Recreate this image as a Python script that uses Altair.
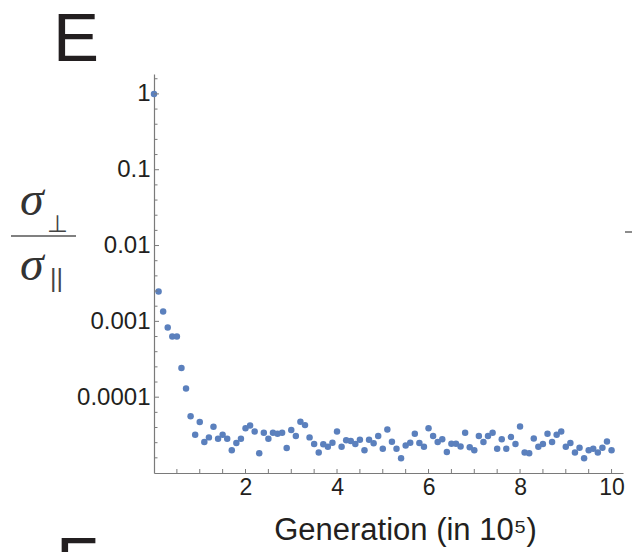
import altair as alt
import pandas as pd

# Generation (in units of 10^5) and the width ratio sigma_perp / sigma_par
generation = [
    0.0, 0.1, 0.2, 0.3, 0.4, 0.5, 0.6, 0.7, 0.8, 0.9,
    1.0, 1.1, 1.2, 1.3, 1.4, 1.5, 1.6, 1.7, 1.8, 1.9,
    2.0, 2.1, 2.2, 2.3, 2.4, 2.5, 2.6, 2.7, 2.8, 2.9,
    3.0, 3.1, 3.2, 3.3, 3.4, 3.5, 3.6, 3.7, 3.8, 3.9,
    4.0, 4.1, 4.2, 4.3, 4.4, 4.5, 4.6, 4.7, 4.8, 4.9,
    5.0, 5.1, 5.2, 5.3, 5.4, 5.5, 5.6, 5.7, 5.8, 5.9,
    6.0, 6.1, 6.2, 6.3, 6.4, 6.5, 6.6, 6.7, 6.8, 6.9,
    7.0, 7.1, 7.2, 7.3, 7.4, 7.5, 7.6, 7.7, 7.8, 7.9,
    8.0, 8.1, 8.2, 8.3, 8.4, 8.5, 8.6, 8.7, 8.8, 8.9,
    9.0, 9.1, 9.2, 9.3, 9.4, 9.5, 9.6, 9.7, 9.8, 9.9,
    10.0,
]
ratio = [
    1.0, 2.48e-3, 1.35e-3, 8.3e-4, 6.3e-4, 6.3e-4, 2.43e-4, 1.30e-4, 5.6e-5, 3.2e-5,
    4.7e-5, 2.56e-5, 2.95e-5, 4.07e-5, 2.83e-5, 3.19e-5, 2.83e-5, 2.0e-5, 2.48e-5, 2.83e-5,
    3.9e-5, 4.24e-5, 3.53e-5, 1.82e-5, 3.4e-5, 2.83e-5, 3.4e-5, 3.3e-5, 3.4e-5, 2.13e-5,
    3.68e-5, 3.07e-5, 4.73e-5, 4.28e-5, 2.95e-5, 2.41e-5, 1.87e-5, 2.4e-5, 2.22e-5, 2.5e-5,
    3.53e-5, 2.22e-5, 2.7e-5, 2.65e-5, 2.41e-5, 2.75e-5, 2.0e-5, 2.75e-5, 2.46e-5, 3.07e-5,
    2.09e-5, 3.76e-5, 2.59e-5, 2.09e-5, 1.57e-5, 2.31e-5, 2.5e-5, 3.3e-5, 2.48e-5, 2.22e-5,
    3.9e-5, 3.07e-5, 2.56e-5, 2.78e-5, 1.89e-5, 2.43e-5, 2.43e-5, 2.24e-5, 3.4e-5, 2.18e-5,
    2.0e-5, 3.07e-5, 2.56e-5, 3.07e-5, 3.4e-5, 2.09e-5, 2.78e-5, 2.09e-5, 2.98e-5, 2.41e-5,
    4.11e-5, 1.87e-5, 1.82e-5, 2.86e-5, 2.22e-5, 2.41e-5, 3.3e-5, 2.56e-5, 3.19e-5, 3.53e-5,
    2.22e-5, 2.48e-5, 1.87e-5, 2.16e-5, 1.57e-5, 2.0e-5, 2.09e-5, 1.87e-5, 2.16e-5, 2.6e-5,
    2.0e-5,
]

# Axis labels and tick positions
x_labels = [2, 4, 6, 8, 10]
x_ticks = [0.5, 1.0, 1.5, 2.0, 2.5, 3.0, 3.5, 4.0, 4.5, 5.0, 5.5, 6.0, 6.5, 7.0,
           7.5, 8.0, 8.5, 9.0, 9.5, 10.0]
y_labels = [1, 0.1, 0.01, 0.001, 0.0001]
y_major_exponents = [0, -1, -2, -3, -4]
y_minor_exponents = [0.2, -0.2, -0.4, -0.6, -0.8, -1.2, -1.4, -1.6, -1.8,
                     -2.2, -2.4, -2.6, -2.8, -3.2, -3.4, -3.6, -3.8,
                     -4.2, -4.4, -4.6, -4.8]

W, H = 469, 399
X_DOMAIN = [0, 10.25]
Y_DOMAIN = [1e-5, 1.83]
AXIS_GREY = "#7a7a7a"
TEXT = "#231f20"
DOT = "#5b80bd"
SANS = "Liberation Sans"

df = pd.DataFrame({"generation": generation, "ratio": ratio})
xticks_df = pd.DataFrame({"generation": x_ticks})
ymajor_df = pd.DataFrame({"ratio": [10.0 ** e for e in y_major_exponents]})
yminor_df = pd.DataFrame({"ratio": [10.0 ** e for e in y_minor_exponents]})
one = pd.DataFrame({"k": [0]})

xscale = alt.Scale(domain=X_DOMAIN, nice=False, zero=False)
yscale = alt.Scale(type="log", domain=Y_DOMAIN, nice=False)

points = alt.Chart(df).mark_circle(size=42, color=DOT, opacity=1).encode(
    x=alt.X(
        "generation:Q",
        scale=xscale,
        axis=alt.Axis(
            values=x_labels, format="d", grid=False, ticks=False, tickSize=0,
            labelFont=SANS, labelFontSize=23, labelColor=TEXT, labelPadding=3,
            domainColor=AXIS_GREY, domainWidth=1.2,
            title="Generation (in 10⁵)", titleFont=SANS, titleFontSize=31,
            titleFontWeight="normal", titleColor=TEXT,
            titleX=251, titleY=66, titleBaseline="alphabetic", titleAlign="center",
        ),
    ),
    y=alt.Y(
        "ratio:Q",
        scale=yscale,
        axis=alt.Axis(
            values=y_labels, format=".4~f", grid=False, ticks=False, tickSize=0,
            labelFont=SANS, labelFontSize=24, labelColor=TEXT, labelPadding=4,
            domainColor=AXIS_GREY, domainWidth=1.2, title=None,
        ),
    ),
)

# inward-pointing ticks along both axes
x_tick_marks = alt.Chart(xticks_df).mark_rule(color=AXIS_GREY, strokeWidth=1).encode(
    x=alt.X("generation:Q", scale=xscale),
    y=alt.value(H),
    y2=alt.value(H - 4),
)
y_major_marks = alt.Chart(ymajor_df).mark_rule(color=AXIS_GREY, strokeWidth=1).encode(
    y=alt.Y("ratio:Q", scale=yscale),
    x=alt.value(0),
    x2=alt.value(5),
)
y_minor_marks = alt.Chart(yminor_df).mark_rule(color=AXIS_GREY, strokeWidth=1).encode(
    y=alt.Y("ratio:Q", scale=yscale),
    x=alt.value(0),
    x2=alt.value(3.5),
)

# y-axis label drawn as a stacked fraction sigma_perp / sigma_par
def label(txt, x, y, size, font, style="normal", color=TEXT):
    return alt.Chart(one).mark_text(
        text=txt, font=font, fontSize=size, fontStyle=style, color=color,
        align="left", baseline="alphabetic",
    ).encode(x=alt.value(x), y=alt.value(y))

sigma_top = label("σ", -134, 141, 48, "Liberation Serif", "italic", "#333333")
sub_perp = label("⊥", -107, 158, 24, "DejaVu Sans", color="#444444")
sigma_bot = label("σ", -134, 206, 48, "Liberation Serif", "italic", "#333333")
sub_par = label("||", -104, 213, 25, SANS, color="#444444")
frac_bar = alt.Chart(one).mark_rule(color="#808080", strokeWidth=2).encode(
    x=alt.value(-143), x2=alt.value(-78), y=alt.value(162)
)

# panel letters
panel_e = label("E", -101, -13, 69, SANS)
panel_f = label("F", -98, 511, 69, SANS)
edge_dash = alt.Chart(one).mark_rule(color="#666666", strokeWidth=1.5).encode(
    x=alt.value(471), x2=alt.value(478), y=alt.value(158)
)

chart = alt.layer(
    points, x_tick_marks, y_major_marks, y_minor_marks,
    frac_bar, sigma_top, sub_perp, sigma_bot, sub_par,
    panel_e, panel_f, edge_dash,
).properties(
    width=W, height=H,
    autosize=alt.AutoSizeParams(type="none"),
    padding={"left": 154, "top": 74, "right": 9, "bottom": 79},
    background="white",
).configure_view(stroke=None)

chart.save("out.html", embed_options={"renderer": "svg", "actions": False})
